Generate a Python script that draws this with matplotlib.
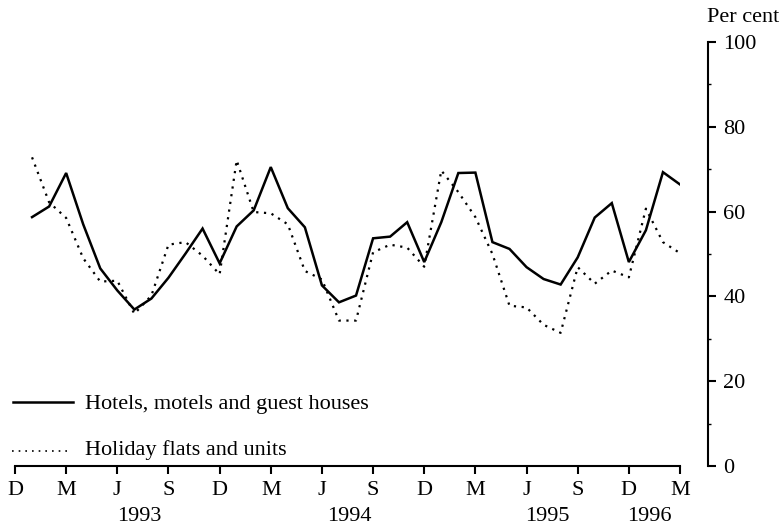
#!/usr/bin/env python3
"""Occupancy rates: hotels vs holiday flats, monthly Jan 1993 - Mar 1996."""

import matplotlib

matplotlib.use("Agg")
import matplotlib.pyplot as plt
import numpy as np

# month index 0 = Dec 1992, data runs Jan 1993 (1) .. Mar 1996 (39)
hotels = [
    58.7, 61.2, 69.1, 57.0, 46.6, 41.4, 36.9, 39.5, 44.4, 50.1, 56.0, 47.8,
    56.5, 60.3, 70.5, 60.8, 56.3, 42.6, 38.6, 40.2, 53.7, 54.1, 57.5, 48.1,
    57.5, 69.1, 69.2, 52.8, 51.2, 46.9, 44.1, 42.8, 49.2, 58.6, 62.0, 48.1,
    55.6, 69.3, 66.4,
]
holiday_flats = [
    72.8, 62.2, 58.5, 49.0, 43.5, 43.7, 35.9, 40.2, 52.2, 52.8, 49.6, 45.2,
    72.1, 59.9, 59.6, 57.0, 46.0, 44.0, 34.3, 34.3, 50.4, 52.2, 51.5, 47.0,
    69.7, 64.6, 58.7, 50.0, 37.8, 37.4, 33.3, 31.4, 46.9, 43.0, 46.1, 44.5,
    60.7, 52.8, 50.2,
]
tick_labels = ["D", "M", "J", "S", "D", "M", "J", "S", "D", "M", "J", "S", "D", "M"]
year_labels = ["1993", "1994", "1995", "1996"]
year_pos = [7.3, 19.6, 31.2, 37.2]

plt.rcParams["font.family"] = ["Liberation Serif", "DejaVu Serif"]
FS = 16

W, H = 783, 531
fig = plt.figure(figsize=(W / 100, H / 100), dpi=100)
ax = fig.add_axes([15 / W, (H - 466) / H, (680 - 15) / W, (466 - 42) / H])

months = np.arange(1, len(hotels) + 1)
ax.plot(months, hotels, color="black", lw=1.8, solid_joinstyle="miter")
ax.plot(months, holiday_flats, color="black", lw=1.6, linestyle=(0, (1, 2.5)))

ax.set_xlim(0, 39)
ax.set_ylim(0, 100)

for side in ["top", "left"]:
    ax.spines[side].set_visible(False)
ax.spines["bottom"].set_linewidth(1.5)
ax.spines["right"].set_linewidth(1.5)
ax.spines["right"].set_position(("outward", 28 * 0.72))
ax.spines["right"].set_bounds(0, 100)

ax.set_xticks(np.arange(0, 40, 3))
ax.set_xticklabels(tick_labels, fontsize=FS)
ax.tick_params(axis="x", which="major", direction="out", length=6, width=1.5, pad=5)

ax.yaxis.tick_right()
ax.set_yticks(np.arange(0, 101, 20))
ax.set_yticks(np.arange(10, 100, 20), minor=True)
ax.tick_params(axis="y", which="major", direction="out", length=6, width=1.5, labelsize=FS, pad=5)
ax.tick_params(axis="y", which="minor", direction="out", length=2, width=1)

for label, pos in zip(year_labels, year_pos):
    ax.text(pos, -0.12, label, transform=ax.get_xaxis_transform(), ha="center", va="center", fontsize=FS)

fig.text(743 / W, 1 - 18 / H, "Per cent", ha="center", va="center", fontsize=FS)

# legend drawn by hand in figure pixels
ax.plot([13, 73], [H - 402, H - 402], transform=None, color="black", lw=1.8, clip_on=False)
ax.plot([12, 72], [H - 451, H - 451], transform=None, color="black", lw=1.2,
        linestyle=(0, (1, 3)), clip_on=False)
fig.text(85 / W, 1 - 404 / H, "Hotels, motels and guest houses", ha="left", va="center", fontsize=FS)
fig.text(85 / W, 1 - 450 / H, "Holiday flats and units", ha="left", va="center", fontsize=FS)

fig.savefig("out.png", dpi=100)
